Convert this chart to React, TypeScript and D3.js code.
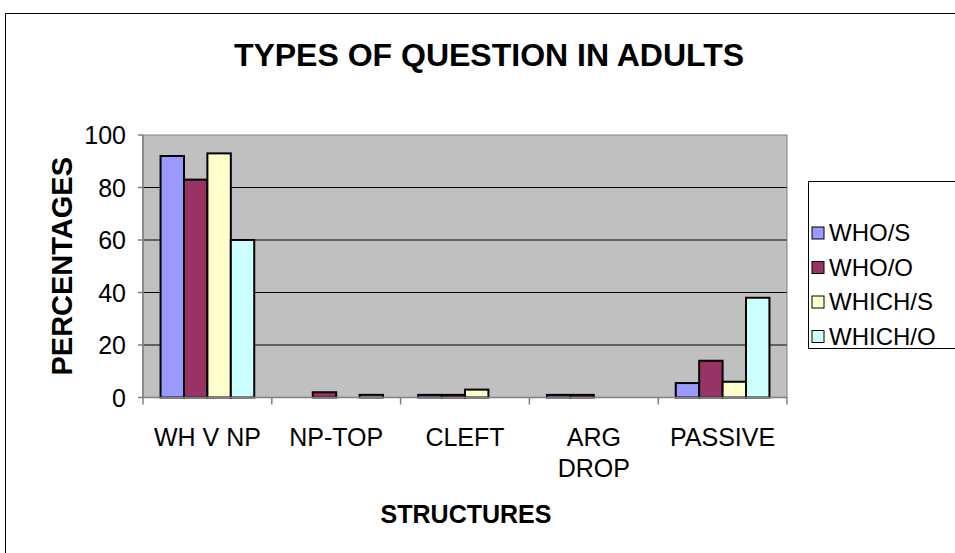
import React from 'react';
import * as d3 from 'd3';

const categories = ['WH V NP', 'NP-TOP', 'CLEFT', 'ARG DROP', 'PASSIVE'];
const seriesNames = ['WHO/S', 'WHO/O', 'WHICH/S', 'WHICH/O'];
const whoS = [92, 0, 1, 1, 5.5];
const whoO = [83, 2, 1, 1, 14];
const whichS = [93, 0, 3, 0, 6];
const whichO = [60, 1, 0, 0, 38];
const seriesColors = ['#9999FF', '#993366', '#FFFFCC', '#CCFFFF'];
const yTicks = [0, 20, 40, 60, 80, 100];

const App = () => {
    const width = 955;
    const height = 553;
    const left = 143;
    const right = 787;
    const top = 135;
    const bottom = 397.5;
    const font = 'Arial, "Liberation Sans", sans-serif';

    const series = [whoS, whoO, whichS, whichO];

    const x = d3.scaleBand()
        .domain(categories)
        .range([left, right])
        .paddingInner(0)
        .paddingOuter(0);

    // excel gap width 150%: bars take 4/5.5 of the band
    const groupWidth = x.bandwidth() * 4 / 5.5;
    const barWidth = groupWidth / 4;

    const y = d3.scaleLinear()
        .domain([0, 100])
        .range([bottom, top]);

    return (
        <svg width={width} height={height} style={{ position: 'absolute', left: 0, top: 0 }}>
            <rect x={0} y={0} width={width} height={height} fill="#ffffff" />
            <path d={`M5.5,${height} V13.5 H${width}`} fill="none" stroke="#000" strokeWidth={1} />

            <text x={489} y={66} textAnchor="middle" fontFamily={font} fontWeight="bold" fontSize={32}>
                TYPES OF QUESTION IN ADULTS
            </text>

            <rect x={left} y={top} width={right - left} height={bottom - top} fill="#c0c0c0" />

            {yTicks.filter(t => t > 0 && t < 100).map(t => (
                <line key={t} x1={left} x2={right} y1={y(t)} y2={y(t)} stroke="#000" strokeWidth={1} />
            ))}

            <rect x={left} y={top} width={right - left} height={bottom - top} fill="none" stroke="#808080" strokeWidth={1} />

            {categories.map((c, i) => (
                <g key={c}>
                    {series.map((s, j) => {
                        const bx = (x(c) as number) + (x.bandwidth() - groupWidth) / 2 + j * barWidth;
                        return (
                            <rect
                                key={j}
                                x={bx}
                                y={y(s[i])}
                                width={barWidth}
                                height={bottom - y(s[i])}
                                fill={seriesColors[j]}
                                stroke="#000"
                                strokeWidth={2}
                            />
                        );
                    })}
                </g>
            ))}

            <line x1={left} x2={left} y1={top} y2={bottom} stroke="#808080" strokeWidth={1.5} />
            <line x1={left} x2={right} y1={bottom} y2={bottom} stroke="#808080" strokeWidth={1.5} />

            {yTicks.map(t => (
                <g key={t}>
                    <line x1={left - 5} x2={left} y1={y(t)} y2={y(t)} stroke="#808080" strokeWidth={1.5} />
                    <text x={left - 17} y={y(t) + 9} textAnchor="end" fontFamily={font} fontSize={25}>{t}</text>
                </g>
            ))}

            {[...categories.map(c => x(c) as number), right].map((tx, i) => (
                <line key={i} x1={tx} x2={tx} y1={bottom} y2={bottom + 7} stroke="#808080" strokeWidth={1.5} />
            ))}

            {categories.map(c => {
                const cx = (x(c) as number) + x.bandwidth() / 2;
                const lines = c === 'ARG DROP' ? ['ARG', 'DROP'] : [c];
                return (
                    <text key={c} x={cx} y={446} textAnchor="middle" fontFamily={font} fontSize={25}>
                        {lines.map((l, k) => (
                            <tspan key={k} x={cx} dy={k === 0 ? 0 : 31}>{l}</tspan>
                        ))}
                    </text>
                );
            })}

            <text x={466} y={523} textAnchor="middle" fontFamily={font} fontWeight="bold" fontSize={25}>
                STRUCTURES
            </text>
            <text
                transform={`translate(72, ${(top + bottom) / 2}) rotate(-90)`}
                textAnchor="middle"
                fontFamily={font}
                fontWeight="bold"
                fontSize={29}
            >
                PERCENTAGES
            </text>

            <rect x={808.5} y={181.5} width={160} height={167} fill="#fff" stroke="#000" strokeWidth={1} />
            {seriesNames.map((n, j) => (
                <g key={n} transform={`translate(812, ${227 + j * 34.5})`}>
                    <rect x={0} y={0} width={12} height={12} fill={seriesColors[j]} stroke="#000" strokeWidth={1} />
                    <text x={17} y={14} fontFamily={font} fontSize={24}>{n}</text>
                </g>
            ))}
        </svg>
    );
};

export default App;
